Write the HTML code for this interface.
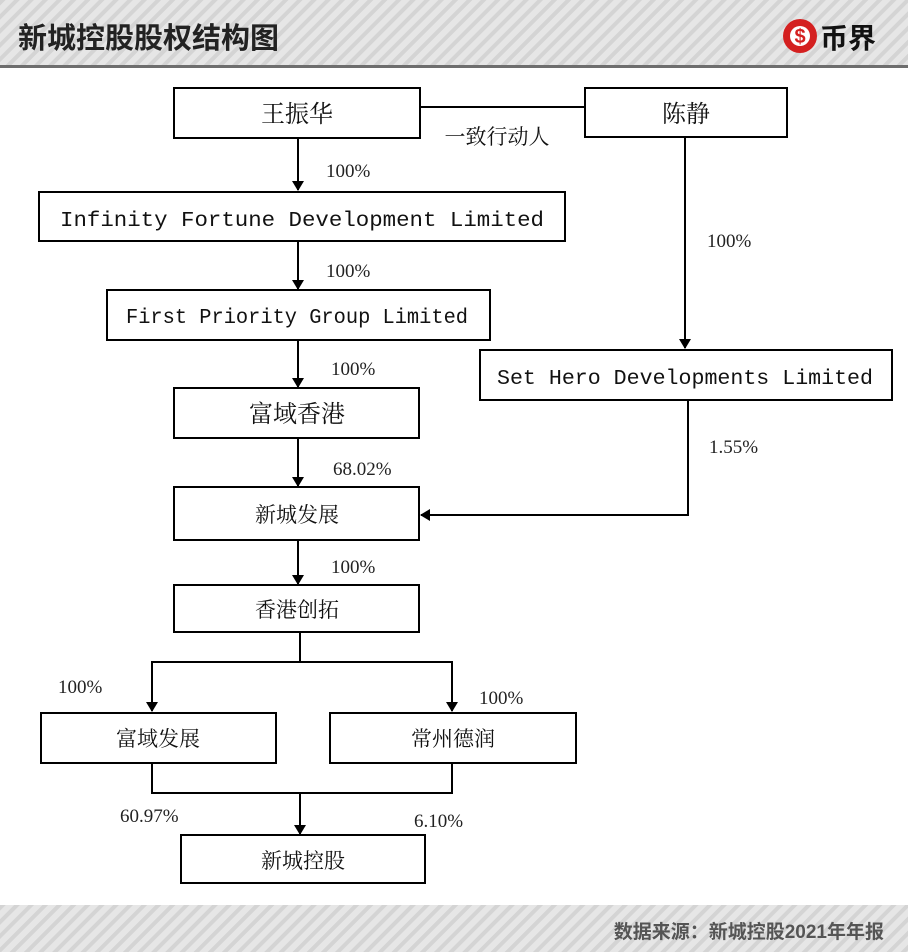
<!DOCTYPE html>
<html><head><meta charset="utf-8"><style>
html,body{margin:0;padding:0;background:#fff}
svg{display:block}
.b{fill:#fff;stroke:#000;stroke-width:2}
.l{stroke:#000;stroke-width:2;fill:none}
.cn{font-family:"Liberation Serif","Noto Serif CJK SC",serif;fill:#111}
.m{font-family:"Liberation Mono","Noto Serif CJK SC",monospace;fill:#111}
.p{font-family:"Liberation Serif",serif;font-size:19px;fill:#222}
</style></head><body>
<svg width="908" height="952" viewBox="0 0 908 952" xmlns="http://www.w3.org/2000/svg">
<defs>
<pattern id="st" width="10" height="10" patternUnits="userSpaceOnUse" patternTransform="rotate(45)">
<rect width="10" height="10" fill="#e6e6e6"/><rect width="4" height="10" fill="#d4d4d4"/>
</pattern>
<marker id="a" markerWidth="10" markerHeight="12" refX="9" refY="6" orient="auto" markerUnits="userSpaceOnUse">
<path d="M0,0 L10,6 L0,12 z" fill="#000"/></marker>
</defs>
<rect x="0" y="0" width="908" height="66" fill="url(#st)"/>
<rect x="0" y="65" width="908" height="3" fill="#6e6e6e"/>
<text x="18" y="48" font-family="Liberation Sans,'Noto Sans CJK SC',sans-serif" font-weight="bold" font-size="29" fill="#222">新城控股股权结构图</text>
<circle cx="800" cy="36" r="17" fill="#d42020"/>
<circle cx="800" cy="36" r="10" fill="#fff"/>
<text x="800" y="43" text-anchor="middle" font-family="Liberation Sans,sans-serif" font-weight="bold" font-size="20" fill="#d42020">$</text>
<text x="820" y="48" font-family="Liberation Sans,'Noto Sans CJK SC',sans-serif" font-weight="bold" font-size="28" fill="#111">币界</text>
<rect x="0" y="905" width="908" height="47" fill="url(#st)"/>
<text x="884" y="938" text-anchor="end" font-family="Liberation Sans,'Noto Sans CJK SC',sans-serif" font-size="19" font-weight="bold" fill="#555">数据来源：新城控股2021年年报</text>

<!-- boxes -->
<rect class="b" x="174" y="88" width="246" height="50"/>
<text class="cn" x="297" y="122" text-anchor="middle" font-size="24">王振华</text>
<rect class="b" x="585" y="88" width="202" height="49"/>
<text class="cn" x="686" y="122" text-anchor="middle" font-size="24">陈静</text>
<line class="l" x1="420" y1="107" x2="585" y2="107"/>
<text class="cn" x="497" y="144" text-anchor="middle" font-size="21">一致行动人</text>

<line class="l" x1="298" y1="138" x2="298" y2="190" marker-end="url(#a)"/>
<text class="p" x="326" y="177">100%</text>
<rect class="b" x="39" y="192" width="526" height="49"/>
<text class="m" x="60" y="226" font-size="21" textLength="484" lengthAdjust="spacingAndGlyphs">Infinity Fortune Development Limited</text>

<line class="l" x1="685" y1="137" x2="685" y2="348" marker-end="url(#a)"/>
<text class="p" x="707" y="247">100%</text>

<line class="l" x1="298" y1="241" x2="298" y2="289" marker-end="url(#a)"/>
<text class="p" x="326" y="277">100%</text>
<rect class="b" x="107" y="290" width="383" height="50"/>
<text class="m" x="126" y="323" font-size="21" textLength="342" lengthAdjust="spacingAndGlyphs">First Priority Group Limited</text>

<rect class="b" x="480" y="350" width="412" height="50"/>
<text class="m" x="497" y="384" font-size="21" textLength="376" lengthAdjust="spacingAndGlyphs">Set Hero Developments Limited</text>

<line class="l" x1="298" y1="340" x2="298" y2="387" marker-end="url(#a)"/>
<text class="p" x="331" y="375">100%</text>
<rect class="b" x="174" y="388" width="245" height="50"/>
<text class="cn" x="297" y="422" text-anchor="middle" font-size="24">富域香港</text>

<line class="l" x1="298" y1="438" x2="298" y2="486" marker-end="url(#a)"/>
<text class="p" x="333" y="475">68.02%</text>
<polyline class="l" points="688,400 688,515 421,515" marker-end="url(#a)"/>
<text class="p" x="709" y="453">1.55%</text>
<rect class="b" x="174" y="487" width="245" height="53"/>
<text class="cn" x="297" y="522" text-anchor="middle" font-size="21">新城发展</text>

<line class="l" x1="298" y1="540" x2="298" y2="584" marker-end="url(#a)"/>
<text class="p" x="331" y="573">100%</text>
<rect class="b" x="174" y="585" width="245" height="47"/>
<text class="cn" x="297" y="617" text-anchor="middle" font-size="21">香港创拓</text>

<line class="l" x1="300" y1="632" x2="300" y2="662"/>
<line class="l" x1="151" y1="662" x2="453" y2="662"/>
<line class="l" x1="152" y1="662" x2="152" y2="711" marker-end="url(#a)"/>
<line class="l" x1="452" y1="662" x2="452" y2="711" marker-end="url(#a)"/>
<text class="p" x="58" y="693">100%</text>
<text class="p" x="479" y="704">100%</text>
<rect class="b" x="41" y="713" width="235" height="50"/>
<text class="cn" x="158" y="746" text-anchor="middle" font-size="21">富域发展</text>
<rect class="b" x="330" y="713" width="246" height="50"/>
<text class="cn" x="453" y="746" text-anchor="middle" font-size="21">常州德润</text>

<polyline class="l" points="152,763 152,793 452,793 452,763"/>
<line class="l" x1="300" y1="793" x2="300" y2="834" marker-end="url(#a)"/>
<text class="p" x="120" y="822">60.97%</text>
<text class="p" x="414" y="827">6.10%</text>
<rect class="b" x="181" y="835" width="244" height="48"/>
<text class="cn" x="303" y="868" text-anchor="middle" font-size="21">新城控股</text>
</svg>
</body></html>
